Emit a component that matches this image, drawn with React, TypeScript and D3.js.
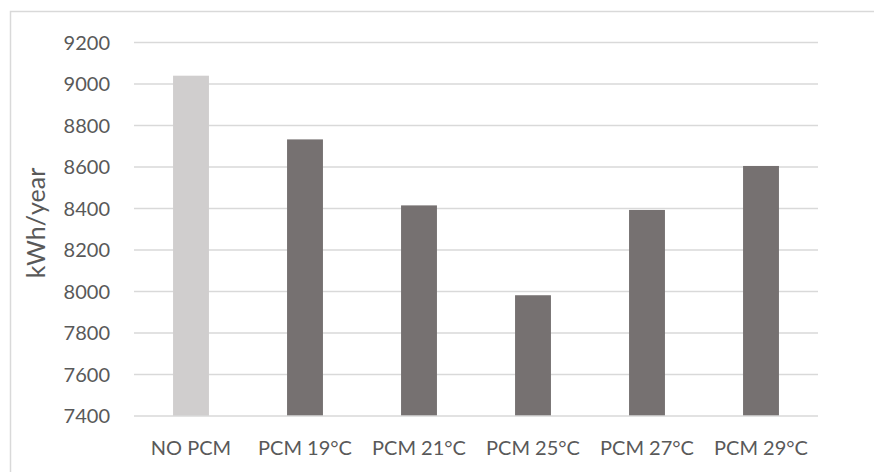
import React, { useEffect, useRef } from "react";
import * as d3 from "d3";

const categories = ["NO PCM", "PCM 19°C", "PCM 21°C", "PCM 25°C", "PCM 27°C", "PCM 29°C"];
const values = [9040, 8733, 8415, 7982, 8393, 8605];
const barColors = ["#d0cece", "#767171", "#767171", "#767171", "#767171", "#767171"];
const yTicks = [7400, 7600, 7800, 8000, 8200, 8400, 8600, 8800, 9000, 9200];
const yLabel = "kWh/year";

const W = 874;
const H = 472;

export default function App() {
  const ref = useRef<SVGSVGElement>(null);

  useEffect(() => {
    const svg = d3.select(ref.current);
    svg.selectAll("*").remove();

    const left = 134, right = 818, top = 42.5, bottom = 416;
    const font = "Lato, 'Open Sans', sans-serif";
    const textColor = "#595959";

    // outer chart border
    svg.append("rect")
      .attr("x", 10.5).attr("y", 11.5)
      .attr("width", W).attr("height", H)
      .attr("fill", "#fff").attr("stroke", "#d9d9d9").attr("stroke-width", 1.5);

    const x = d3.scaleBand<string>().domain(categories).range([left, right])
      .paddingInner(0.685).paddingOuter(0.3425);
    const y = d3.scaleLinear().domain([7400, 9200]).range([bottom, top]);

    // gridlines
    svg.append("g").selectAll("line").data(yTicks.slice(1)).join("line")
      .attr("x1", left).attr("x2", right)
      .attr("y1", d => y(d)).attr("y2", d => y(d))
      .attr("stroke", "#d9d9d9").attr("stroke-width", 1.5);

    // bars
    svg.append("g").selectAll("rect").data(values).join("rect")
      .attr("x", (_, i) => x(categories[i])!)
      .attr("width", x.bandwidth())
      .attr("y", d => y(d))
      .attr("height", d => bottom - y(d))
      .attr("fill", (_, i) => barColors[i]);

    // axis line
    svg.append("line")
      .attr("x1", left).attr("x2", right)
      .attr("y1", bottom).attr("y2", bottom)
      .attr("stroke", "#d9d9d9").attr("stroke-width", 1.5);

    // y tick labels
    svg.append("g").selectAll("text").data(yTicks).join("text")
      .attr("x", 110).attr("y", d => y(d))
      .attr("dy", "0.35em")
      .attr("text-anchor", "end")
      .attr("font-family", font).attr("font-size", 20)
      .attr("fill", textColor)
      .text(d => String(d));

    // x labels
    svg.append("g").selectAll("text").data(categories).join("text")
      .attr("x", d => x(d)! + x.bandwidth() / 2)
      .attr("y", 455)
      .attr("text-anchor", "middle")
      .attr("font-family", font).attr("font-size", 20)
      .attr("fill", textColor)
      .text(d => d);

    // y axis title
    svg.append("text")
      .attr("transform", `translate(45, 223) rotate(-90)`)
      .attr("text-anchor", "middle")
      .attr("font-family", font).attr("font-size", 25)
      .attr("fill", textColor)
      .text(yLabel);
  }, []);

  return (
    <svg
      ref={ref}
      width={W}
      height={H}
      style={{ position: "absolute", left: 0, top: 0, display: "block", background: "#fff" }}
    />
  );
}
